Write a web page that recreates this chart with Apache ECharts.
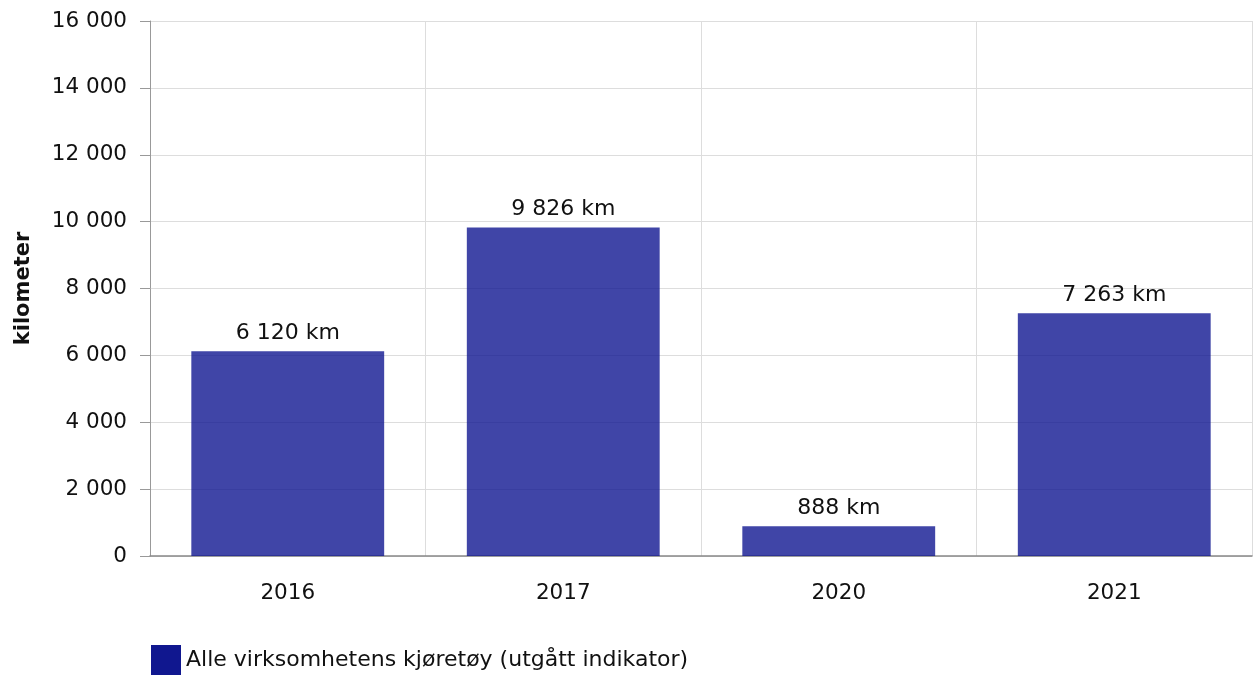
<!DOCTYPE html>
<html><head><meta charset="utf-8">
<script src="https://cdn.jsdelivr.net/npm/echarts@6/dist/echarts.min.js"></script>
<style>html,body{margin:0;padding:0;background:#fff}#c{width:1256px;height:677px}</style>
</head><body><div id="c"></div>
<script>
const categories = ['2016', '2017', '2020', '2021'];
const values = [6120, 9826, 888, 7263];
const seriesName = 'Alle virksomhetens kjøretøy (utgått indikator)';
const yAxisName = 'kilometer';

function fmt(v) { return String(Math.round(v)).replace(/\B(?=(\d{3})+(?!\d))/g, ' '); }
const FONT = '"DejaVu Sans", Verdana, sans-serif';
const chart = echarts.init(document.getElementById('c'));
chart.setOption({
  animation: false,
  textStyle: { fontFamily: FONT },
  grid: { left: 150, right: 4, top: 21, bottom: 121, containLabel: false },
  legend: {
    left: 146, top: 640,
    itemWidth: 30, itemHeight: 30, itemGap: 10,
    icon: 'rect',
    textStyle: { fontSize: 22, color: '#111', fontFamily: FONT, padding: [2, 0, 0, 0] },
    data: [{ name: seriesName, itemStyle: { color: '#10178f', opacity: 1 } }]
  },
  xAxis: {
    type: 'category', data: categories,
    axisLine: { lineStyle: { color: '#888', width: 1.5 } },
    axisTick: { alignWithLabel: true, length: 8, lineStyle: { color: '#999' } },
    axisLabel: { fontSize: 21.5, color: '#111', margin: 26, fontFamily: FONT },
    splitLine: { show: true, lineStyle: { color: '#dddddd' } }
  },
  yAxis: {
    type: 'value', min: 0, max: 16000, interval: 2000,
    name: yAxisName, nameLocation: 'middle', nameGap: 116,
    nameTextStyle: { fontSize: 21, fontWeight: 'bold', color: '#111', fontFamily: FONT },
    axisLine: { show: true, lineStyle: { color: '#999' } },
    axisTick: { show: true, length: 10, lineStyle: { color: '#999' } },
    axisLabel: { fontSize: 21.5, color: '#111', margin: 23, formatter: fmt, fontFamily: FONT, padding: [7, 0, 0, 0] },
    splitLine: { lineStyle: { color: '#dddddd' } }
  },
  series: [{
    name: seriesName, type: 'bar', data: values, barWidth: '70%',
    itemStyle: { color: 'rgba(16,23,145,0.8)' },
    label: { show: true, position: 'top', distance: 7, fontSize: 22, color: '#111', fontFamily: FONT,
      formatter: p => fmt(p.value) + ' km' }
  }]
});
</script></body></html>
